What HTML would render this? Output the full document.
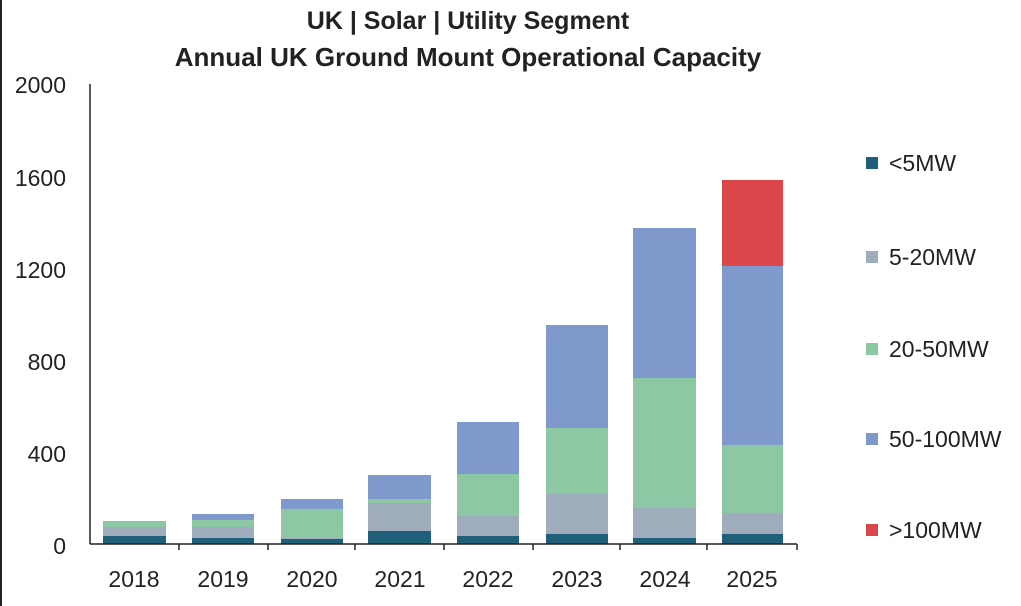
<!DOCTYPE html>
<html><head><style>body{margin:0;background:#fff}svg{display:block}text{font-family:"Liberation Sans",sans-serif;fill:#222}</style></head>
<body>
<svg width="1021" height="606" xmlns="http://www.w3.org/2000/svg">
<rect x="0" y="0" width="2" height="606" fill="#222"/>
<text x="468" y="29" font-size="25" font-weight="bold" text-anchor="middle">UK | Solar | Utility Segment</text>
<text x="468" y="66" font-size="26" font-weight="bold" text-anchor="middle">Annual UK Ground Mount Operational Capacity</text>
<g font-size="23" text-anchor="end">
<text x="66" y="93">2000</text><text x="66" y="186">1600</text><text x="66" y="278">1200</text>
<text x="66" y="370">800</text><text x="66" y="462">400</text><text x="66" y="554">0</text>
</g>
<g>
<rect x="103" y="536" width="63" height="8" fill="#1f5f7a"/><rect x="103" y="527" width="63" height="9" fill="#9eacbc"/><rect x="103" y="521" width="63" height="6" fill="#8dc8a4"/>
<rect x="192" y="538" width="62" height="6" fill="#1f5f7a"/><rect x="192" y="527" width="62" height="11" fill="#9eacbc"/><rect x="192" y="520" width="62" height="7" fill="#8dc8a4"/><rect x="192" y="514" width="62" height="6" fill="#7f99cc"/>
<rect x="281" y="539" width="62" height="5" fill="#1f5f7a"/><rect x="281" y="538" width="62" height="1" fill="#9eacbc"/><rect x="281" y="509" width="62" height="29" fill="#8dc8a4"/><rect x="281" y="499" width="62" height="10" fill="#7f99cc"/>
<rect x="368" y="531" width="63" height="13" fill="#1f5f7a"/><rect x="368" y="503" width="63" height="28" fill="#9eacbc"/><rect x="368" y="499" width="63" height="4" fill="#8dc8a4"/><rect x="368" y="475" width="63" height="24" fill="#7f99cc"/>
<rect x="457" y="536" width="62" height="8" fill="#1f5f7a"/><rect x="457" y="516" width="62" height="20" fill="#9eacbc"/><rect x="457" y="474" width="62" height="42" fill="#8dc8a4"/><rect x="457" y="422" width="62" height="52" fill="#7f99cc"/>
<rect x="546" y="534" width="62" height="10" fill="#1f5f7a"/><rect x="546" y="494" width="62" height="40" fill="#9eacbc"/><rect x="546" y="428" width="62" height="66" fill="#8dc8a4"/><rect x="546" y="325" width="62" height="103" fill="#7f99cc"/>
<rect x="633" y="538" width="63" height="6" fill="#1f5f7a"/><rect x="633" y="508" width="63" height="30" fill="#9eacbc"/><rect x="633" y="378" width="63" height="130" fill="#8dc8a4"/><rect x="633" y="228" width="63" height="150" fill="#7f99cc"/>
<rect x="722" y="534" width="61" height="10" fill="#1f5f7a"/><rect x="722" y="513" width="61" height="21" fill="#9eacbc"/><rect x="722" y="445" width="61" height="68" fill="#8dc8a4"/><rect x="722" y="266" width="61" height="179" fill="#7f99cc"/><rect x="722" y="180" width="61" height="86" fill="#d9474a"/>
</g>
<g stroke="#222" stroke-width="1.5">
<line x1="90" y1="84" x2="90" y2="544"/>
<line x1="90" y1="544" x2="797" y2="544"/>
<line x1="179" y1="544" x2="179" y2="550"/><line x1="268" y1="544" x2="268" y2="550"/><line x1="355" y1="544" x2="355" y2="550"/><line x1="444" y1="544" x2="444" y2="550"/><line x1="533" y1="544" x2="533" y2="550"/><line x1="620" y1="544" x2="620" y2="550"/><line x1="707" y1="544" x2="707" y2="550"/><line x1="797" y1="544" x2="797" y2="550"/>
</g>
<g font-size="23" text-anchor="middle">
<text x="134" y="587">2018</text><text x="223" y="587">2019</text><text x="312" y="587">2020</text><text x="400" y="587">2021</text>
<text x="488" y="587">2022</text><text x="577" y="587">2023</text><text x="665" y="587">2024</text><text x="752" y="587">2025</text>
</g>
<g font-size="23">
<rect x="866" y="157" width="12" height="12" fill="#1f5f7a"/><text x="889" y="171">&lt;5MW</text>
<rect x="866" y="251" width="12" height="12" fill="#9eacbc"/><text x="889" y="265">5-20MW</text>
<rect x="866" y="343" width="12" height="12" fill="#8dc8a4"/><text x="889" y="357">20-50MW</text>
<rect x="866" y="433" width="12" height="12" fill="#7f99cc"/><text x="889" y="447">50-100MW</text>
<rect x="866" y="524" width="12" height="12" fill="#d9474a"/><text x="889" y="538">&gt;100MW</text>
</g>
</svg>
</body></html>
